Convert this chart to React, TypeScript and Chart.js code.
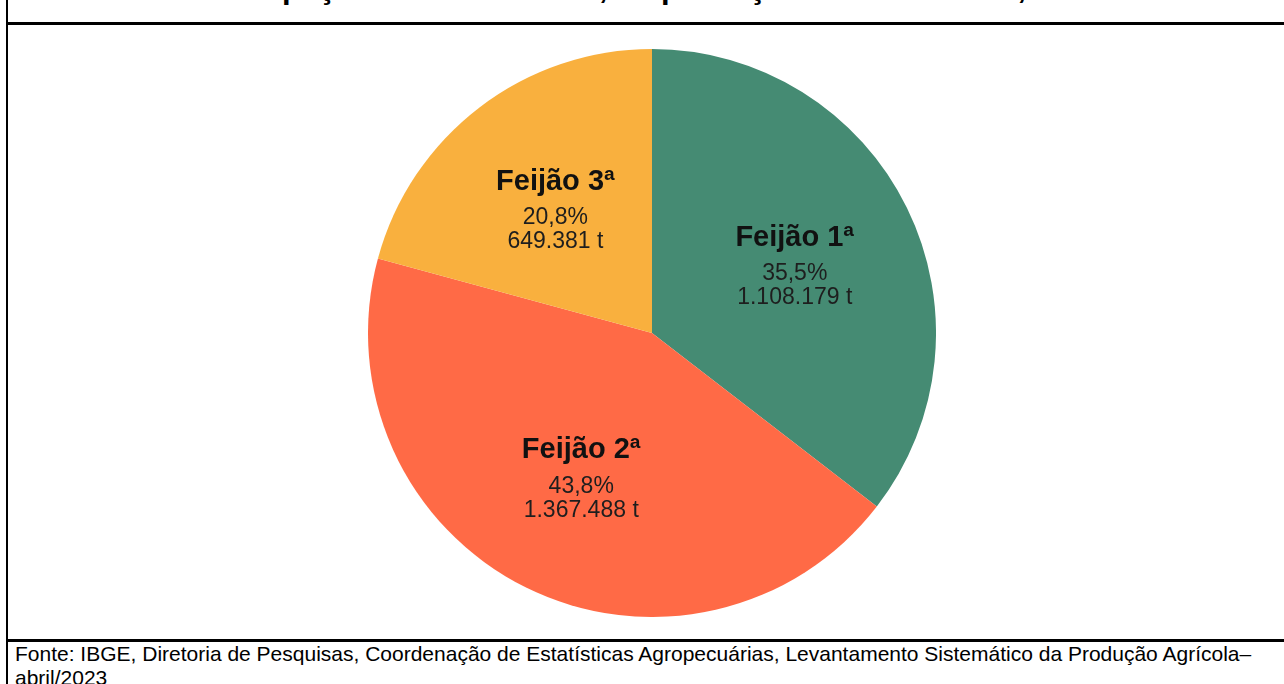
import React, { useEffect, useRef } from "react";
import { Chart, registerables } from "chart.js";

Chart.register(...registerables);

const titleText = "Participação das três safras, na produção total do Brasil, 2023";
const categories = ["Feijão 1ª", "Feijão 2ª", "Feijão 3ª"];
const tonnes = [1108179, 1367488, 649381];
const shareLabels = ["35,5%", "43,8%", "20,8%"];
const tonneLabels = ["1.108.179 t", "1.367.488 t", "649.381 t"];
const colors = ["#458B73", "#FF6A46", "#F9B03E"];
const sourceLine1 =
  "Fonte: IBGE, Diretoria de Pesquisas, Coordenação de Estatísticas Agropecuárias, Levantamento Sistemático da Produção Agrícola–";
const sourceLine2 = "abril/2023";

const FONT = "'Liberation Sans', Arial, Helvetica, sans-serif";

const sliceLabels = {
  id: "sliceLabels",
  afterDatasetsDraw(chart: any) {
    const ctx = chart.ctx;
    const meta = chart.getDatasetMeta(0);
    meta.data.forEach((arc: any, i: number) => {
      const p = arc.getProps(["startAngle", "endAngle", "outerRadius", "x", "y"], true);
      const mid = (p.startAngle + p.endAngle) / 2;
      const r = p.outerRadius * 0.56;
      const cx = p.x + Math.cos(mid) * r;
      const cy = p.y + Math.sin(mid) * r;
      ctx.save();
      ctx.textAlign = "center";
      ctx.textBaseline = "middle";
      ctx.fillStyle = "#111111";
      ctx.font = `bold 29px ${FONT}`;
      ctx.fillText(categories[i], cx, cy - 25);
      ctx.fillStyle = "#1e1e1e";
      ctx.font = `23px ${FONT}`;
      ctx.fillText(shareLabels[i], cx, cy + 11);
      ctx.fillText(tonneLabels[i], cx, cy + 35);
      ctx.restore();
    });
  },
};

function PieChart() {
  const ref = useRef<HTMLCanvasElement | null>(null);
  useEffect(() => {
    if (!ref.current) return;
    const chart = new Chart(ref.current, {
      type: "pie",
      data: {
        labels: categories,
        datasets: [
          {
            data: tonnes,
            backgroundColor: colors,
            borderWidth: 0,
          },
        ],
      },
      options: {
        responsive: false,
        animation: false,
        layout: { padding: 0 },
        plugins: {
          legend: { display: false },
          tooltip: { enabled: false },
          title: { display: false },
        },
      },
      plugins: [sliceLabels],
    });
    return () => chart.destroy();
  }, []);
  return (
    <canvas
      ref={ref}
      width={568}
      height={568}
      style={{ position: "absolute", left: 368, top: 49, width: 568, height: 568 }}
    />
  );
}

export default function App() {
  useEffect(() => {
    document.body.style.margin = "0";
  }, []);
  return (
    <div
      style={{
        position: "relative",
        width: 1284,
        height: 684,
        overflow: "hidden",
        background: "#ffffff",
        fontFamily: FONT,
      }}
    >
      <div
        style={{
          position: "absolute",
          left: 7,
          right: 0,
          top: -26,
          height: 28,
          lineHeight: "28px",
          fontSize: 31,
          fontWeight: "bold",
          textAlign: "center",
          color: "#000",
          whiteSpace: "nowrap",
        }}
      >
        {titleText}
      </div>
      <div style={{ position: "absolute", left: 6, top: 0, width: 2, height: 684, background: "#000" }} />
      <div style={{ position: "absolute", left: 6, right: 0, top: 22, height: 3, background: "#000" }} />
      <div style={{ position: "absolute", left: 6, right: 0, top: 639, height: 3, background: "#000" }} />
      <PieChart />
      <div
        style={{
          position: "absolute",
          left: 15,
          top: 642,
          fontSize: 21,
          lineHeight: "24px",
          color: "#000",
          whiteSpace: "nowrap",
        }}
      >
        {sourceLine1}
        <br />
        {sourceLine2}
      </div>
    </div>
  );
}
